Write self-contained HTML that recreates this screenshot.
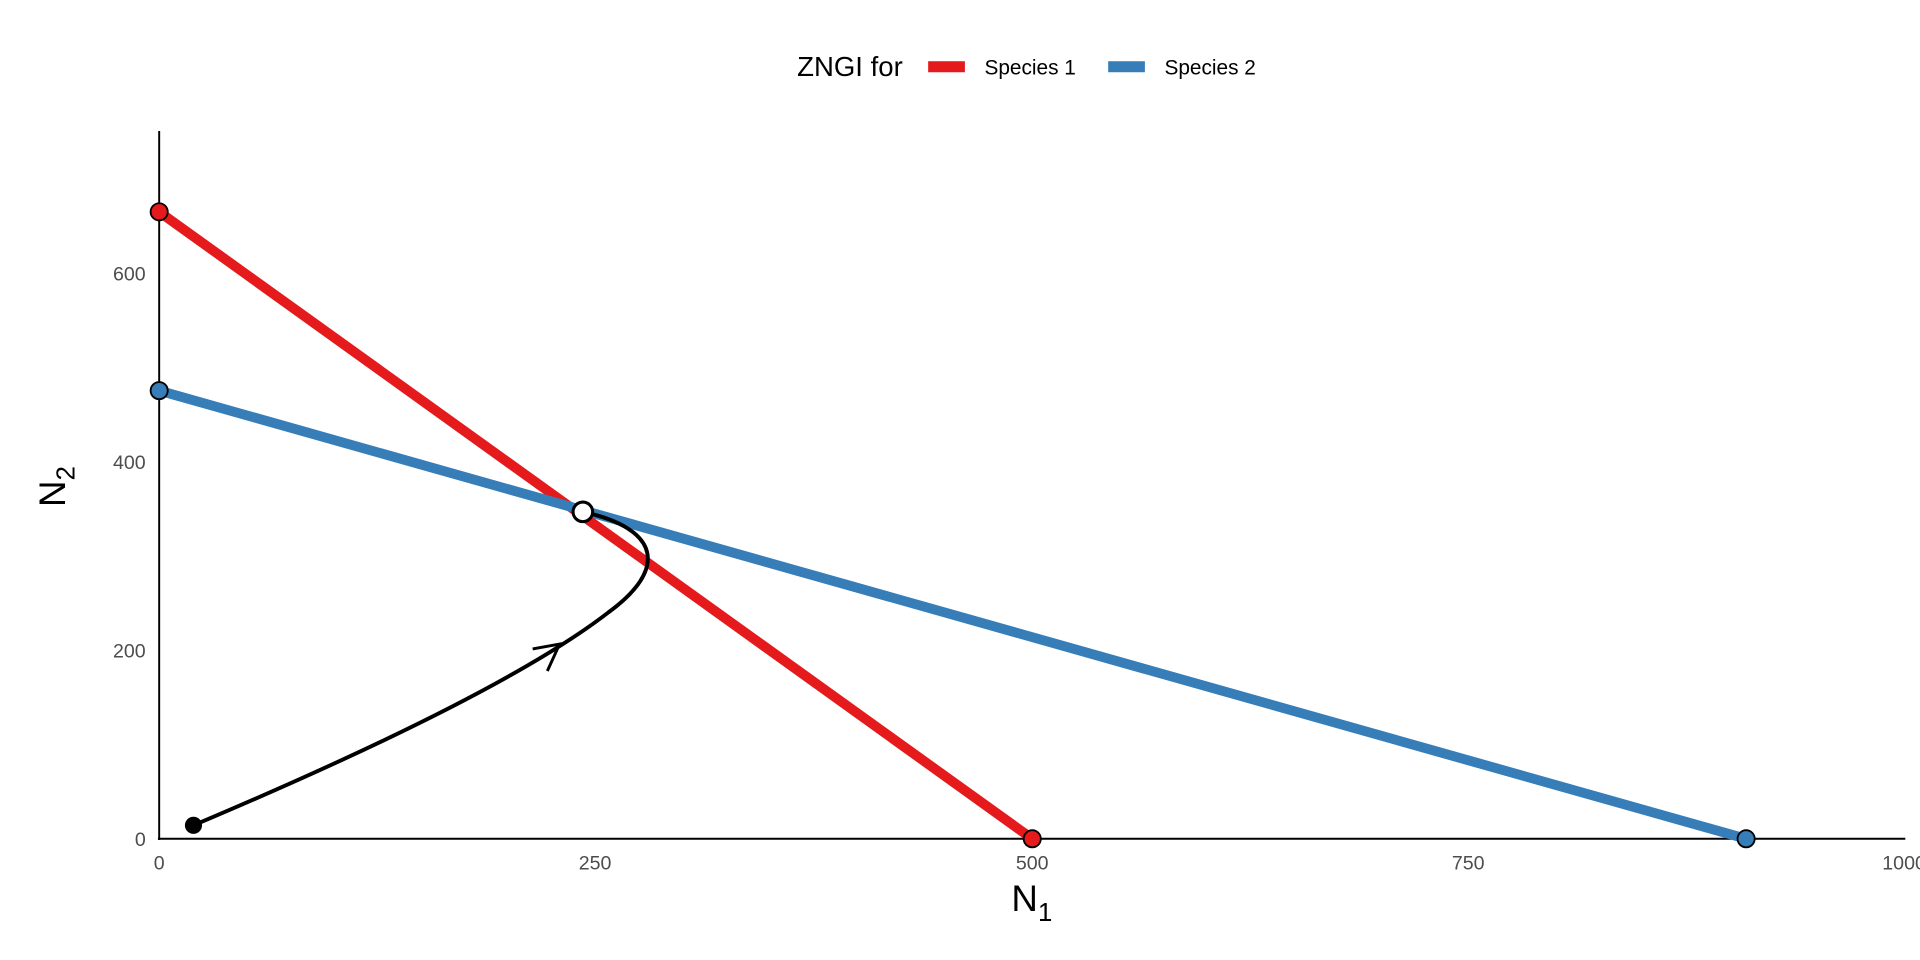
<!DOCTYPE html>
<html><head><style>html,body{margin:0;padding:0;background:#fff;}svg{display:block}</style></head>
<body>
<svg width="1920" height="960" viewBox="0 0 1568 784" xmlns="http://www.w3.org/2000/svg" font-family="Liberation Sans, sans-serif">
<rect width="1568" height="784" fill="#fff"/>
<line x1="130" y1="107" x2="130" y2="686" stroke="#000" stroke-width="1.6"/>
<line x1="129" y1="685" x2="1556" y2="685" stroke="#000" stroke-width="1.6"/>
<g fill="#4d4d4d" font-size="16">
<text x="119" y="691" text-anchor="end">0</text>
<text x="119" y="537" text-anchor="end">200</text>
<text x="119" y="383" text-anchor="end">400</text>
<text x="119" y="229" text-anchor="end">600</text>
<text x="130" y="710" text-anchor="middle">0</text>
<text x="486" y="710" text-anchor="middle">250</text>
<text x="843" y="710" text-anchor="middle">500</text>
<text x="1199" y="710" text-anchor="middle">750</text>
<text x="1555" y="710" text-anchor="middle">1000</text>
</g>
<text x="826" y="744" font-size="30">N<tspan font-size="21" dy="8">1</tspan></text>
<text transform="translate(53,414) rotate(-90)" font-size="30">N<tspan font-size="21" dy="8">2</tspan></text>
<line x1="130" y1="173" x2="843" y2="685" stroke="#e41a1c" stroke-width="8"/>
<line x1="130" y1="319" x2="1426" y2="685" stroke="#377eb8" stroke-width="8"/>
<path d="M158,674 C300,614 430,552 497,500 C545,465 540,432 476,418" fill="none" stroke="#000" stroke-width="3.2"/>
<path d="M435,530 L457,526 L447,548" fill="none" stroke="#000" stroke-width="2.4"/>
<circle cx="130" cy="173" r="7" fill="#e41a1c" stroke="#000" stroke-width="1.5"/>
<circle cx="843" cy="685" r="7" fill="#e41a1c" stroke="#000" stroke-width="1.5"/>
<circle cx="130" cy="319" r="7" fill="#377eb8" stroke="#000" stroke-width="1.5"/>
<circle cx="1426" cy="685" r="7" fill="#377eb8" stroke="#000" stroke-width="1.5"/>
<circle cx="158" cy="674" r="7" fill="#000"/>
<circle cx="476" cy="418" r="8" fill="#fff" stroke="#000" stroke-width="2.5"/>
<text x="651" y="62" font-size="22.5">ZNGI for</text>
<rect x="758" y="50" width="30" height="9" fill="#e41a1c"/>
<text x="804" y="61" font-size="17">Species 1</text>
<rect x="905" y="50" width="30" height="9" fill="#377eb8"/>
<text x="951" y="61" font-size="17">Species 2</text>
</svg>
</body></html>
